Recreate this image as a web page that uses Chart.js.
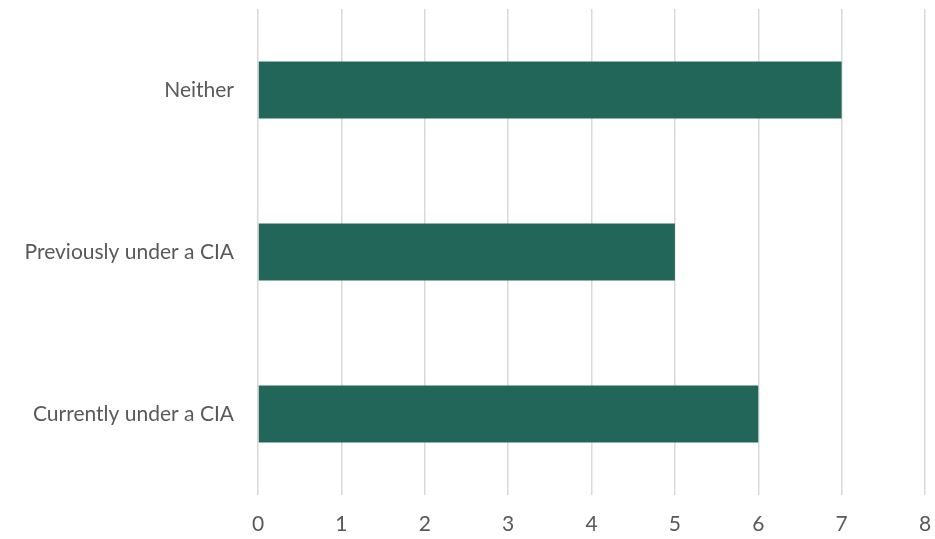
<!DOCTYPE html>
<html>
<head>
<meta charset="utf-8">
<script src="https://cdn.jsdelivr.net/npm/chart.js@4"></script>
<style>
  html, body { margin: 0; padding: 0; background: #fff; }
  #wrap { width: 935px; height: 539px; }
</style>
</head>
<body>
<div id="wrap"><canvas id="bar-chart"></canvas></div>
<script>
const categories = ['Neither', 'Previously under a CIA', 'Currently under a CIA'];
const counts = [7, 5, 6];
const xTicks = [0, 1, 2, 3, 4, 5, 6, 7, 8];

let ctx = document.getElementById('bar-chart').getContext('2d');

let chart = new Chart(ctx, {
    type: 'bar',
    data: {
        labels: categories,
        datasets: [{
            data: counts,
            backgroundColor: '#22665a',
            barPercentage: 0.352,
            categoryPercentage: 1
        }]
    },
    options: {
        indexAxis: 'y',
        responsive: true,
        maintainAspectRatio: false,
        animation: false,
        layout: { padding: { top: 9, right: 10, left: 0, bottom: 0 } },
        plugins: { legend: { display: false }, tooltip: { enabled: false } },
        scales: {
            x: {
                min: xTicks[0],
                max: xTicks[xTicks.length - 1],
                afterBuildTicks: (s) => { s.ticks = xTicks.map(v => ({ value: v })); },
                afterFit: (s) => { s.height = 44; s.paddingLeft = 0; s.paddingRight = 0; },
                grid: { color: '#d9d9d9', lineWidth: 1.5, drawTicks: false },
                border: { display: false },
                ticks: {
                    padding: 17,
                    color: '#595959',
                    font: { family: 'Lato', size: 21 }
                }
            },
            y: {
                afterFit: (s) => { s.width = 258; s.paddingTop = 0; s.paddingBottom = 0; },
                grid: { display: false, drawTicks: false },
                border: { display: false },
                ticks: {
                    padding: 24,
                    color: '#595959',
                    font: { family: 'Lato', size: 21 }
                }
            }
        }
    }
});
</script>
</body>
</html>
